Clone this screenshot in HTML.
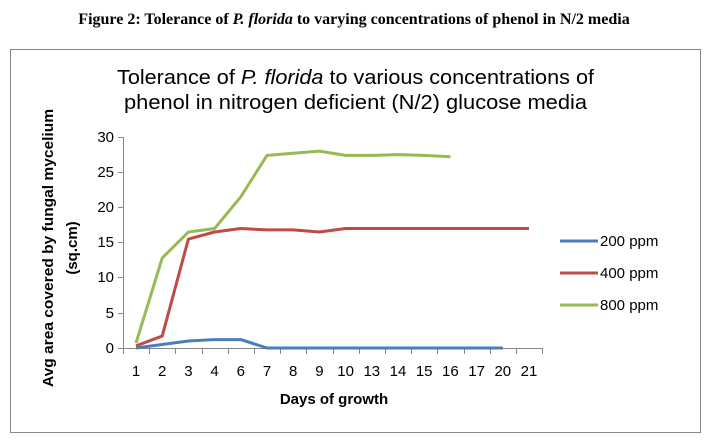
<!DOCTYPE html><html><head><style>body{margin:0;background:#fff;width:708px;height:442px;overflow:hidden}</style></head><body>
<svg width="708" height="442" xmlns="http://www.w3.org/2000/svg" font-family="Liberation Sans, sans-serif">
<text x="354" y="24" text-anchor="middle" font-family="Liberation Serif, serif" font-weight="bold" font-size="16">Figure 2: Tolerance of <tspan font-style="italic">P. florida</tspan> to varying concentrations of phenol in N/2 media</text>
<rect x="10.5" y="49.5" width="690" height="383" fill="none" stroke="#888" stroke-width="1"/>
<text x="117" y="84" font-size="20" textLength="477" lengthAdjust="spacingAndGlyphs">Tolerance of <tspan font-style="italic">P. florida</tspan> to various concentrations of</text>
<text x="124" y="109" font-size="20" textLength="463" lengthAdjust="spacingAndGlyphs">phenol in nitrogen deficient (N/2) glucose media</text>
<g stroke="#888" stroke-width="1">
<line x1="123.5" y1="137" x2="123.5" y2="348"/>
<line x1="123" y1="348.5" x2="543" y2="348.5"/>
<line x1="118" y1="137.5" x2="123" y2="137.5"/><line x1="118" y1="172.5" x2="123" y2="172.5"/><line x1="118" y1="207.5" x2="123" y2="207.5"/><line x1="118" y1="242.5" x2="123" y2="242.5"/><line x1="118" y1="277.5" x2="123" y2="277.5"/><line x1="118" y1="313.5" x2="123" y2="313.5"/><line x1="118" y1="348.5" x2="123" y2="348.5"/>
</g>
<g stroke="#888" id="xt"></g>
<g font-size="15" text-anchor="end" fill="#000">
<text x="114" y="142">30</text><text x="114" y="177">25</text><text x="114" y="212">20</text><text x="114" y="247">15</text><text x="114" y="282">10</text><text x="114" y="318">5</text><text x="114" y="353">0</text>
</g>
<g font-size="15" text-anchor="middle" id="xl"></g>
<text x="334" y="404" text-anchor="middle" font-size="15" font-weight="bold">Days of growth</text>
<text transform="translate(53,248) rotate(-90)" text-anchor="middle" font-size="15" font-weight="bold" textLength="278" lengthAdjust="spacingAndGlyphs">Avg area covered by fungal mycelium</text>
<text transform="translate(77,248) rotate(-90)" text-anchor="middle" font-size="15" font-weight="bold">(sq.cm)</text>
<g fill="none" stroke-width="3" stroke-linejoin="round" id="series"></g>
<g stroke-width="3">
<line x1="560" y1="241" x2="598" y2="241" stroke="#4a7ebb"/>
<line x1="560" y1="273" x2="598" y2="273" stroke="#be4b48"/>
<line x1="560" y1="305" x2="598" y2="305" stroke="#98b954"/>
</g>
<g font-size="15"><text x="600" y="246">200 ppm</text><text x="600" y="278">400 ppm</text><text x="600" y="310">800 ppm</text></g>
<script>
var cats=[1,2,3,4,6,7,8,9,10,13,14,15,16,17,20,21];
var xs=i=>136+26.2*i, ys=v=>348-7.03*v;
var ns="http://www.w3.org/2000/svg",xt=document.getElementById('xt'),xl=document.getElementById('xl');
for(var i=0;i<=16;i++){var l=document.createElementNS(ns,'line');var x=Math.round(123+26.2*i)+.5;l.setAttribute('x1',x);l.setAttribute('x2',x);l.setAttribute('y1',348);l.setAttribute('y2',354);xt.appendChild(l);}
cats.forEach((c,i)=>{var t=document.createElementNS(ns,'text');t.setAttribute('x',xs(i));t.setAttribute('y',376);t.textContent=c;xl.appendChild(t);});
var d={"#4a7ebb":[0,0.5,1,1.2,1.2,0,0,0,0,0,0,0,0,0,0],"#be4b48":[0.3,1.7,15.5,16.5,17,16.8,16.8,16.5,17,17,17,17,17,17,17,17],"#98b954":[0.7,12.8,16.5,17,21.5,27.4,27.7,28,27.4,27.4,27.5,27.4,27.2]};
var g=document.getElementById('series');
for(var k in d){var p=document.createElementNS(ns,'polyline');p.setAttribute('points',d[k].map((v,i)=>xs(i)+','+ys(v)).join(' '));p.setAttribute('stroke',k);g.appendChild(p);}
</script>
</svg></body></html>
